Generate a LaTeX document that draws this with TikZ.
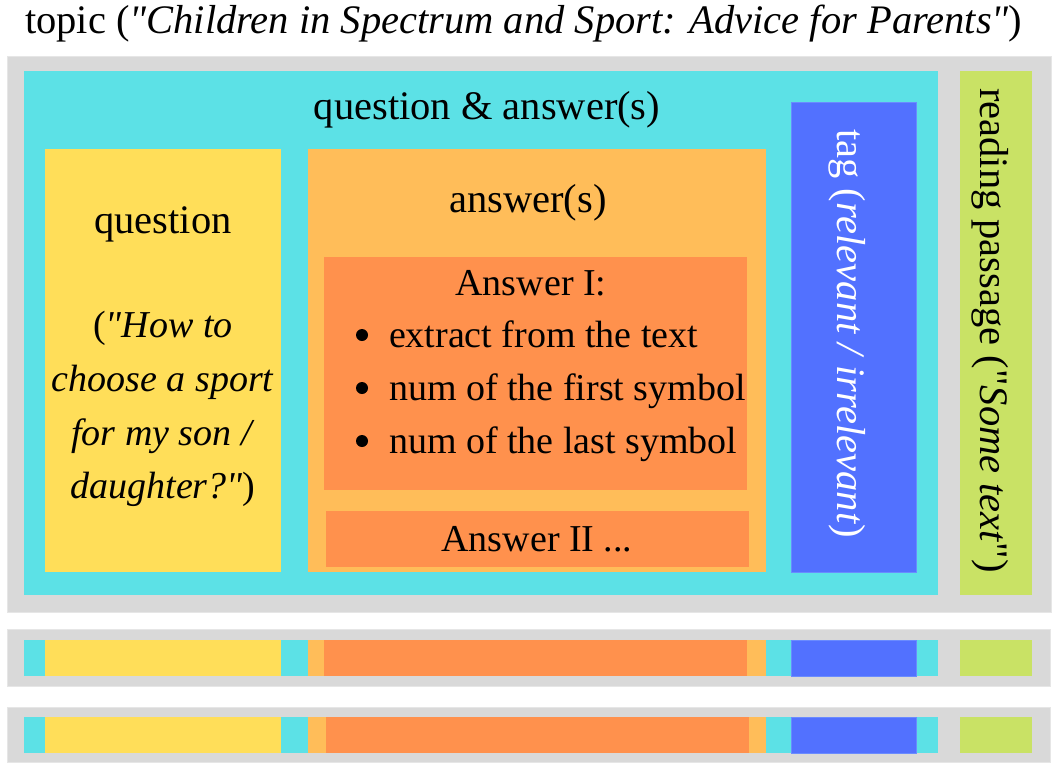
\documentclass[tikz,border=0pt]{standalone}
\usepackage{fontspec}
\setmainfont{Liberation Serif}[Ligatures=TeXOff]
\definecolor{cgray}{HTML}{D9D9D9}
\definecolor{cgrayedge}{HTML}{E6E6E6}
\definecolor{ccyan}{HTML}{5CE1E6}
\definecolor{cyellow}{HTML}{FFDE59}
\definecolor{clorange}{HTML}{FFBD59}
\definecolor{cdorange}{HTML}{FF914D}
\definecolor{cblue}{HTML}{5271FF}
\definecolor{cblueedge}{HTML}{6A8BFF}
\definecolor{cgreen}{HTML}{C9E265}
\begin{document}
\begin{tikzpicture}[x=1pt,y=-1pt,
  every node/.style={inner sep=0pt, outer sep=0pt, font=\fontsize{40.5}{53}\selectfont},
  small/.style={font=\fontsize{38}{52}\selectfont},
  lbl/.style={anchor=base},
  lblw/.style={anchor=base west},
  bul/.style={circle, fill=black, minimum size=12pt},
  graybox/.style={fill=cgray, draw=cgrayedge, line width=0.8pt},
  bluebox/.style={fill=cblue, draw=cblueedge, line width=0.8pt},
  vert/.style={rotate=-90, anchor=base}]
\useasboundingbox (0,0) rectangle (1057,764);
\fill[white] (0,0) rectangle (1057,764);

% title
\node[lblw] (title) at (25,33) {topic (\textit{"Children in Spectrum and Sport: Advice for Parents"})};

% ---- main record ----
\filldraw[graybox] (7,56) rectangle (1051,612);
\fill[ccyan] (24,70.6) rectangle (938,595);
\fill[cyellow] (45,149) rectangle (281,572);
\fill[clorange] (308,149) rectangle (766,572);
\fill[cdorange] (324,257) rectangle (747,490);
\fill[cdorange] (326,511) rectangle (749,567);
\filldraw[bluebox] (791,102) rectangle (916,572);
\fill[cgreen] (960,70.6) rectangle (1032,595);

\node[lbl] (qa) at (487,119) {question \& answer(s)};
\node[lbl] (q) at (163,233) {question};
\node[lbl, small] (q1) at (163,337) {(\textit{"How to}};
\node[lbl, small] (q2) at (163,391) {\textit{choose a sport}};
\node[lbl, small] (q3) at (163,445) {\textit{for my son /}};
\node[lbl, small] (q4) at (163,498) {\textit{daughter?"})};
\node[lbl] (ans) at (528,212) {answer(s)};
\node[lbl, small] (a1) at (531,295) {Answer I:};
\node[bul] (b1) at (362,335) {};
\node[lblw, small] (t1) at (389,347) {extract from the text};
\node[bul] (b2) at (362,388) {};
\node[lblw, small] (t2) at (389,400) {num of the first symbol};
\node[bul] (b3) at (362,441) {};
\node[lblw, small] (t3) at (389,453) {num of the last symbol};
\node[lbl, small] (a2) at (537,551) {Answer II ...};
\node[vert, text=white] (tag) at (837,333.5) {tag (\textit{relevant / irrelevant})};
\node[vert] (rp) at (980,330.5) {reading passage ("\textit{Some text}")};

% ---- second record ----
\filldraw[graybox] (7,629) rectangle (1050,686);
\fill[ccyan] (24,640) rectangle (938,676);
\fill[cyellow] (45,640) rectangle (281,676);
\fill[clorange] (308,640) rectangle (766,676);
\fill[cdorange] (324,640) rectangle (747,676);
\filldraw[bluebox] (791,640) rectangle (916,676);
\fill[cgreen] (960,640) rectangle (1032,676);

% ---- third record ----
\filldraw[graybox] (7,707) rectangle (1050,762);
\fill[ccyan] (24,717) rectangle (938,753);
\fill[cyellow] (45,717) rectangle (281,753);
\fill[clorange] (308,717) rectangle (766,753);
\fill[cdorange] (326,717) rectangle (749,753);
\filldraw[bluebox] (791,717) rectangle (916,753);
\fill[cgreen] (960,717) rectangle (1032,753);
\end{tikzpicture}
\end{document}
